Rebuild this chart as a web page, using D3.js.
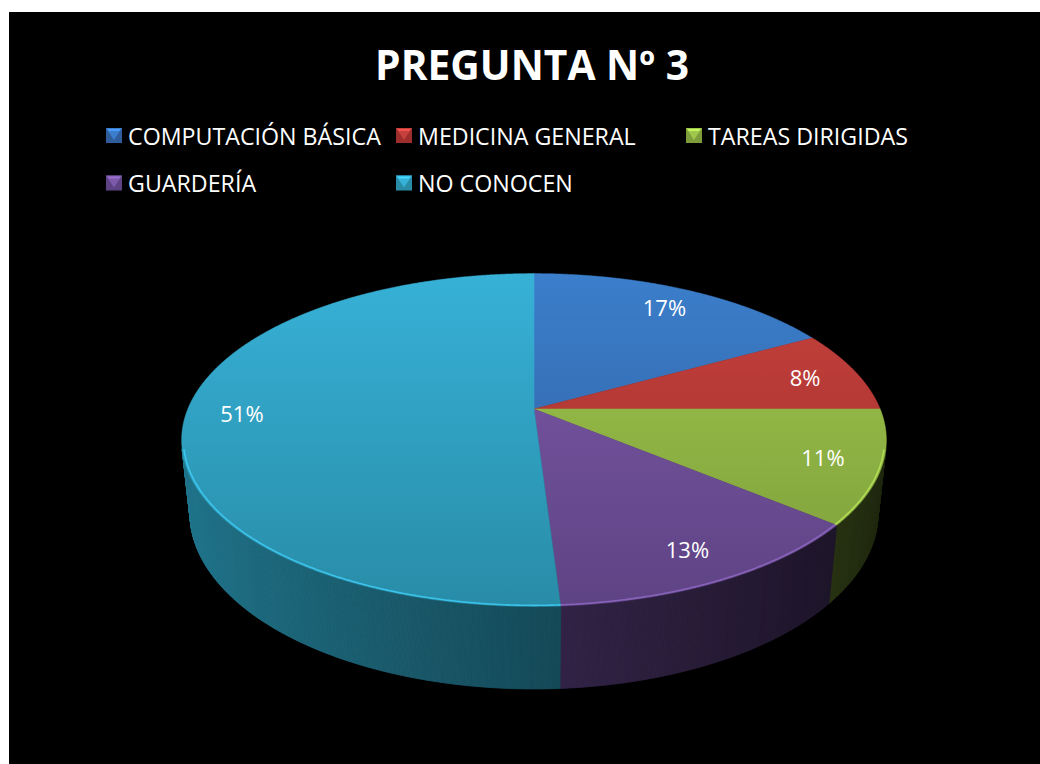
<!DOCTYPE html>
<html>
<head>
<meta charset="utf-8">
<script src="https://cdn.jsdelivr.net/npm/d3@7"></script>
<style>
html,body{margin:0;padding:0;background:#fff;}
svg{display:block;}
text{font-family:"Open Sans","Noto Sans",sans-serif;}
</style>
</head>
<body>
<script>
// ---- data ----
const title = "PREGUNTA Nº 3";
const categories = ["COMPUTACIÓN BÁSICA", "MEDICINA GENERAL", "TAREAS DIRIGIDAS", "GUARDERÍA", "NO CONOCEN"];
const values = [17, 8, 11, 13, 51];
const topColors = ["#3b7ecb", "#c6413d", "#9ec74b", "#7d5aa9", "#37b1d7"];
const bottomColors = ["#2f5d9b", "#9d2e2b", "#7d9d3b", "#5e4384", "#288ca7"];

const W = 1040, H = 764;
const svg = d3.select("body").append("svg").attr("width", W).attr("height", H);
const defs = svg.append("defs");

// chart area
svg.append("rect").attr("x", 9).attr("y", 12).attr("width", W - 9).attr("height", H - 12).attr("fill", "#000");

// title
const tt = svg.append("text").attr("x", 532).attr("y", 80).attr("text-anchor", "middle")
  .attr("fill", "#fff").attr("font-weight", 700).attr("font-size", 40).text(title);
{
  const w = tt.node().getComputedTextLength();
  tt.attr("font-size", 40 * 314 / w);
}

// ---- perspective projection for the 3D pie ----
const cx0 = 534, cy0 = 409;   // screen position of the pie centre
const focal = 1643, dist = 4.746, tilt = Math.atan(0.524);
const sn = Math.sin(tilt), cs = Math.cos(tilt);
const depth = 0.24;           // thickness relative to radius
function proj(X, Y, Z) {
  const yc = Y * sn + Z * cs;
  const d = dist + Y * cs - Z * sn;
  return [cx0 + focal * X / d, cy0 - focal * yc / d];
}

const pie = d3.pie().sort(null).value(d => d).startAngle(0).endAngle(2 * Math.PI);
const arcs = pie(values);
const step = Math.PI / 720;
function arcPoints(a0, a1, r, z) {
  const n = Math.max(2, Math.ceil((a1 - a0) / step));
  const pts = [];
  for (let i = 0; i <= n; i++) {
    const t = a0 + (a1 - a0) * i / n;
    pts.push(proj(r * Math.sin(t), r * Math.cos(t), z));
  }
  return pts;
}
const line = d3.line();
const visLimit = -1 / (dist * cs);  // wall faces viewer when Y < visLimit

const gPie = svg.append("g");

// side walls
arcs.forEach((a, i) => {
  const base = d3.rgb(bottomColors[i]);
  const n = Math.max(2, Math.ceil((a.endAngle - a.startAngle) / step));
  for (let k = 0; k < n; k++) {
    const t0 = a.startAngle + (a.endAngle - a.startAngle) * k / n;
    const t1 = a.startAngle + (a.endAngle - a.startAngle) * (k + 1) / n;
    const tm = (t0 + t1) / 2;
    if (Math.cos(tm) >= visLimit) continue;
    const nx = Math.sin(tm);
    const fac = 0.55 - 0.3 * nx;
    const col = d3.rgb(base.r * fac, base.g * fac, base.b * fac).formatHex();
    const p = [
      proj(Math.sin(t0), Math.cos(t0), 0), proj(Math.sin(t1), Math.cos(t1), 0),
      proj(Math.sin(t1), Math.cos(t1), -depth), proj(Math.sin(t0), Math.cos(t0), -depth)
    ];
    gPie.append("path").attr("d", line(p) + "Z").attr("fill", col).attr("stroke", col).attr("stroke-width", 0.8);
  }
});

// top faces
const topY0 = proj(0, 1, 0)[1], topY1 = proj(0, -1, 0)[1];
arcs.forEach((a, i) => {
  const gid = "g" + i;
  const lg = defs.append("linearGradient").attr("id", gid).attr("gradientUnits", "userSpaceOnUse")
    .attr("x1", 0).attr("x2", 0).attr("y1", topY0).attr("y2", topY1);
  lg.append("stop").attr("offset", 0).attr("stop-color", topColors[i]);
  lg.append("stop").attr("offset", 1).attr("stop-color", bottomColors[i]);
  const pts = [proj(0, 0, 0)].concat(arcPoints(a.startAngle, a.endAngle, 1, 0));
  gPie.append("path").attr("d", line(pts) + "Z").attr("fill", `url(#${gid})`)
    .attr("stroke", `url(#${gid})`).attr("stroke-width", 0.5);
});

// rim highlight along the front edge
arcs.forEach((a, i) => {
  const a0 = a.startAngle, a1 = a.endAngle;
  const pts = [];
  const n = Math.max(2, Math.ceil((a1 - a0) / step));
  for (let k = 0; k <= n; k++) {
    const t = a0 + (a1 - a0) * k / n;
    if (Math.cos(t) < visLimit) pts.push(proj(0.995 * Math.sin(t), 0.995 * Math.cos(t), 0));
  }
  if (pts.length > 1) {
    gPie.append("path").attr("d", line(pts)).attr("fill", "none")
      .attr("stroke", d3.rgb(topColors[i]).brighter(0.5)).attr("stroke-width", 1.6).attr("opacity", 0.75);
  }
});

// data labels
const labelR = 0.84;
arcs.forEach((a, i) => {
  const t = (a.startAngle + a.endAngle) / 2;
  const [x, y] = proj(labelR * Math.sin(t), labelR * Math.cos(t), 0);
  svg.append("text").attr("x", x).attr("y", y).attr("text-anchor", "middle")
    .attr("dominant-baseline", "central").attr("fill", "#fff").attr("font-size", 22)
    .text(Math.round(a.value / d3.sum(values) * 100) + "%");
});

// legend
const legX = [106, 396, 686], legY = [135.5, 183];
const legG = svg.append("g");
const legTexts = [];
categories.forEach((c, i) => {
  const x = legX[i % 3], y = legY[Math.floor(i / 3)];
  const g = legG.append("g").attr("transform", `translate(${x},${y})`);
  const s = 16, h = 15;
  g.append("rect").attr("x", 0).attr("y", -h / 2).attr("width", s).attr("height", h).attr("fill", bottomColors[i]);
  g.append("path").attr("d", `M0,${-h / 2}L${s},${-h / 2}L${s / 2},${h / 2 - 3}Z`).attr("fill", topColors[i]);
  g.append("path").attr("d", `M1,${-h / 2 + 1}L${s - 1},${-h / 2 + 1}L${s - 3},${-h / 2 + 3}L3,${-h / 2 + 3}Z`)
    .attr("fill", d3.rgb(topColors[i]).brighter(0.6));
  const t = g.append("text").attr("x", 22).attr("y", 0).attr("dominant-baseline", "central")
    .attr("fill", "#fff").attr("font-size", 23).text(c);
  legTexts.push(t);
});
{
  const w = legTexts[0].node().getComputedTextLength();
  const fs = 23 * 253 / w;
  legTexts.forEach(t => t.attr("font-size", fs));
}
</script>
</body>
</html>
